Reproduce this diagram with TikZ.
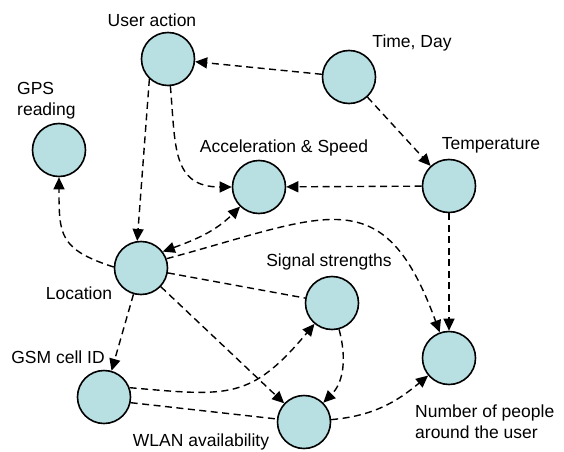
\documentclass[tikz,border=0pt]{standalone}
\usepackage{fontspec}
\setmainfont{Liberation Sans}
\usetikzlibrary{arrows.meta}
\definecolor{NodeClr}{RGB}{184,224,227}

\begin{document}
\begin{tikzpicture}[x=1pt,y=1pt,
  state/.style={circle,draw=black,line width=1.6pt,fill=NodeClr,minimum size=53pt,inner sep=0pt},
  txt/.style={inner sep=0pt,font=\fontsize{17.5}{21}\selectfont},
  link/.style={line width=1.4pt,dash pattern=on 7pt off 4.5pt},
  dep/.style={link,-{Triangle[length=12pt,width=11pt]}},
  bidep/.style={link,{Triangle[length=12pt,width=11pt]}-{Triangle[length=12pt,width=11pt]}}]
\useasboundingbox (0,0) rectangle (564,451);

\node[state] (UA)   at (168,392) {};
\node[state] (GPS)  at (59,301) {};
\node[state] (ACC)  at (259,264) {};
\node[state] (TD)   at (349,374) {};
\node[state] (TEMP) at (449,265) {};
\node[state] (LOC)  at (141,183) {};
\node[state] (GSM)  at (104,54) {};
\node[state] (WLAN) at (304,29) {};
\node[state] (SIG)  at (332,148) {};
\node[state] (NUM)  at (449,93) {};

\node[txt] (UAtxt)   at (152,431) {User action};
\node[txt,align=left,anchor=west] (GPStxt) at (17,350) {GPS\\reading};
\node[txt] (ACCtxt)  at (284,303) {Acceleration \& Speed};
\node[txt] (TDtxt)   at (412,408) {Time, Day};
\node[txt] (TEMPtxt) at (491,306) {Temperature};
\node[txt] (LOCtxt)  at (79,158) {Location};
\node[txt] (GSMtxt)  at (58,94) {GSM cell ID};
\node[txt] (WLANtxt) at (201,9) {WLAN availability};
\node[txt] (SIGtxt)  at (329,189) {Signal strengths};
\node[txt,align=left,anchor=west] (NUMtxt) at (415,29) {Number of people\\around the user};

\draw[dep] (TD) -- (UA);
\draw[dep] (TD) -- (TEMP);
\draw[dep] (TEMP) -- (ACC);
\draw[dep] (TEMP) -- (NUM);
\draw[dep] (UA) to[out=-85,in=180,looseness=1.3] (ACC);
\draw[dep] (UA.-133) -- (LOC.98);

\draw[dep] (LOC.178) to[out=162,in=-90,looseness=1.4] (GPS);
\draw[bidep] (LOC.37) to[out=20,in=-135] (ACC.-134);
\draw[dep] (LOC.20) to[out=15,in=110,looseness=1.5] (NUM);
\draw[link] (LOC) -- (SIG);
\draw[dep] (LOC) -- (WLAN);
\draw[dep] (LOC) -- (GSM);

\draw[dep] (GSM.20) to[out=-5,in=-130,looseness=1.3] (SIG);
\draw[link] (GSM.-12) -- (WLAN);
\draw[dep] (SIG) to[out=-75,in=45] (WLAN);
\draw[dep] (WLAN) to[out=5,in=-140] (NUM);

\end{tikzpicture}
\end{document}
